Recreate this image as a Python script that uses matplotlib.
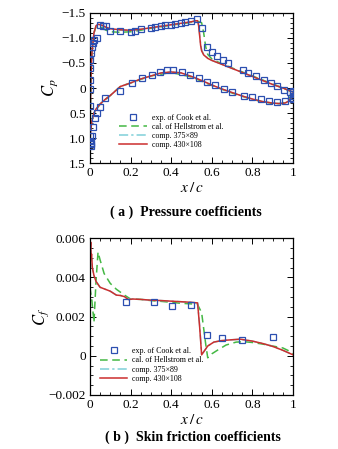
import matplotlib
matplotlib.use('Agg')
import matplotlib.pyplot as plt
from matplotlib.ticker import MultipleLocator, FuncFormatter

plt.rcParams['font.family'] = ['Liberation Serif', 'DejaVu Serif']
plt.rcParams['mathtext.fontset'] = 'stix'

# ---- pressure coefficient data ----
exp_up_x = [0.001, 0.001, 0.002, 0.004, 0.008, 0.014, 0.022, 0.033, 0.05, 0.066, 0.079, 0.1, 0.15, 0.2,
            0.22, 0.25, 0.3, 0.32, 0.35, 0.37, 0.4, 0.42, 0.45, 0.47, 0.5, 0.525, 0.55, 0.575, 0.6,
            0.625, 0.655, 0.68, 0.755, 0.78, 0.82, 0.855, 0.89, 0.92, 0.955, 0.985, 0.998]
exp_up_cp = [-0.16, -0.39, -0.55, -0.7, -0.82, -0.9, -0.95, -0.99, -1.25, -1.24, -1.23, -1.14, -1.13, -1.12,
             -1.13, -1.17, -1.2, -1.22, -1.23, -1.25, -1.26, -1.27, -1.29, -1.31, -1.33, -1.38, -1.19, -0.82, -0.71,
             -0.64, -0.56, -0.5, -0.35, -0.3, -0.23, -0.15, -0.09, -0.03, 0.03, 0.08, 0.15]
exp_lo_x = [0.001, 0.001, 0.001, 0.002, 0.003, 0.004, 0.006, 0.01, 0.016, 0.025, 0.036, 0.05, 0.074,
            0.148, 0.206, 0.255, 0.304, 0.345, 0.378, 0.411, 0.452, 0.493, 0.535, 0.576, 0.617, 0.658,
            0.7, 0.757, 0.8, 0.84, 0.88, 0.92, 0.96, 0.99, 0.998, 0.999, 1.0]
exp_lo_cp = [0.02, 0.35, 0.95, 1.05, 1.12, 1.15, 1.1, 0.95, 0.77, 0.6, 0.5, 0.38, 0.2,
             0.05, -0.1, -0.19, -0.25, -0.32, -0.35, -0.35, -0.32, -0.25, -0.19, -0.12, -0.05, 0.01,
             0.07, 0.15, 0.18, 0.22, 0.25, 0.27, 0.26, 0.2, 0.12, 0.05, 0.22]

comp430_up_x = [0, 0.002, 0.005, 0.01, 0.02, 0.03, 0.04, 0.06, 0.08, 0.1, 0.15, 0.2, 0.25, 0.3, 0.35, 0.4,
                0.45, 0.5, 0.52, 0.53, 0.535, 0.54, 0.545, 0.55, 0.56, 0.58, 0.6, 0.65, 0.7, 0.75, 0.8,
                0.85, 0.9, 0.95, 1.0]
comp430_up_cp = [1.1, 0.5, -0.2, -0.7, -1.1, -1.24, -1.27, -1.25, -1.21, -1.18, -1.16, -1.15, -1.17, -1.2,
                 -1.23, -1.26, -1.29, -1.32, -1.34, -1.34, -1.25, -1.05, -0.85, -0.74, -0.66, -0.59, -0.55,
                 -0.47, -0.39, -0.31, -0.23, -0.15, -0.07, 0.0, 0.08]
comp430_lo_x = [0, 0.002, 0.005, 0.01, 0.02, 0.03, 0.05, 0.08, 0.1, 0.15, 0.2, 0.25, 0.3, 0.35, 0.4, 0.45,
                0.5, 0.55, 0.6, 0.65, 0.7, 0.75, 0.8, 0.85, 0.9, 0.93, 0.96, 0.98, 1.0]
comp430_lo_cp = [1.1, 0.95, 0.8, 0.65, 0.5, 0.42, 0.32, 0.21, 0.15, -0.03, -0.1, -0.18, -0.24, -0.3, -0.32,
                 -0.3, -0.23, -0.15, -0.06, 0.02, 0.09, 0.16, 0.22, 0.27, 0.3, 0.31, 0.3, 0.26, 0.12]

comp375_up_x = comp430_up_x
comp375_up_cp = [1.1, 0.5, -0.2, -0.7, -1.1, -1.23, -1.26, -1.24, -1.2, -1.17, -1.15, -1.15, -1.17, -1.2,
                 -1.23, -1.26, -1.29, -1.32, -1.33, -1.33, -1.26, -1.08, -0.88, -0.76, -0.67, -0.6, -0.55,
                 -0.47, -0.39, -0.31, -0.23, -0.15, -0.07, 0.0, 0.08]
comp375_lo_x = comp430_lo_x
comp375_lo_cp = [1.1, 0.95, 0.8, 0.65, 0.5, 0.42, 0.32, 0.21, 0.15, -0.03, -0.1, -0.18, -0.24, -0.3, -0.32,
                 -0.3, -0.23, -0.15, -0.06, 0.02, 0.09, 0.16, 0.22, 0.27, 0.3, 0.31, 0.3, 0.26, 0.12]

hell_up_x = [0, 0.005, 0.01, 0.02, 0.03, 0.04, 0.06, 0.08, 0.1, 0.15, 0.2, 0.25, 0.3, 0.35, 0.4, 0.45, 0.5,
             0.53, 0.55, 0.56, 0.57, 0.58, 0.6, 0.65, 0.7, 0.75, 0.8, 0.85, 0.9, 0.95, 1.0]
hell_up_cp = [1.1, -0.2, -0.7, -1.1, -1.22, -1.24, -1.2, -1.15, -1.12, -1.11, -1.12, -1.15, -1.19, -1.22,
              -1.25, -1.28, -1.31, -1.33, -1.3, -1.1, -0.82, -0.67, -0.58, -0.48, -0.4, -0.32, -0.24, -0.16,
              -0.08, 0.0, 0.09]
hell_lo_x = [0, 0.005, 0.01, 0.02, 0.05, 0.1, 0.15, 0.2, 0.3, 0.4, 0.5, 0.6, 0.7, 0.8, 0.9, 0.95, 1.0]
hell_lo_cp = [1.1, 0.8, 0.65, 0.5, 0.32, 0.15, -0.03, -0.1, -0.24, -0.31, -0.22, -0.05, 0.1, 0.23, 0.31,
              0.31, 0.13]

# ---- skin friction data ----
exp_cf_x = [0.178, 0.316, 0.403, 0.497, 0.576, 0.65, 0.748, 0.9]
exp_cf = [0.00274, 0.00274, 0.00252, 0.00257, 0.00106, 0.00091, 0.00082, 0.00098]

comp430_cf_x = [0, 0.002, 0.004, 0.006, 0.008, 0.012, 0.02, 0.03, 0.05, 0.075, 0.1, 0.13, 0.15, 0.17, 0.19,
                0.21, 0.25, 0.3, 0.35, 0.4, 0.45, 0.5, 0.53, 0.54, 0.55, 0.56, 0.58, 0.61, 0.65, 0.7, 0.74,
                0.8, 0.85, 0.9, 0.95, 1.0]
comp430_cf = [0.006, 0.0055, 0.0058, 0.005, 0.0052, 0.0045, 0.0041, 0.0038, 0.0035, 0.0034, 0.0033, 0.0031,
              0.00308, 0.00302, 0.00287, 0.0029, 0.00288, 0.00284, 0.00282, 0.00279, 0.00276, 0.00273,
              0.0027, 0.0015, 0.00005, 0.0002, 0.0005, 0.0007, 0.00078, 0.00082, 0.00085, 0.00075, 0.00063,
              0.00048, 0.00028, 0.00005]
comp375_cf_x = comp430_cf_x
comp375_cf = [0.0059, 0.0055, 0.0057, 0.005, 0.0051, 0.0045, 0.0041, 0.0038, 0.0035, 0.0034, 0.0033, 0.0031,
              0.00308, 0.00302, 0.00288, 0.0029, 0.00288, 0.00284, 0.00282, 0.00279, 0.00276, 0.00273,
              0.0027, 0.0016, 0.0001, 0.0002, 0.0005, 0.0007, 0.00078, 0.00082, 0.00084, 0.00075, 0.00063,
              0.00048, 0.00028, 0.00005]
hell_cf_x = [0, 0.01, 0.02, 0.03, 0.04, 0.05, 0.07, 0.1, 0.13, 0.17, 0.2, 0.25, 0.3, 0.35, 0.4, 0.45, 0.5,
             0.53, 0.55, 0.57, 0.58, 0.6, 0.63, 0.67, 0.72, 0.76, 0.8, 0.85, 0.9, 0.95, 0.98, 1.0]
hell_cf = [0.0035, 0.0028, 0.0017, 0.0038, 0.0053, 0.0049, 0.0042, 0.0037, 0.0034, 0.0031, 0.0029, 0.00288,
           0.00282, 0.00278, 0.00273, 0.00268, 0.00265, 0.00262, 0.0022, 0.0006, -0.0001, 0.0001, 0.0003,
           0.00055, 0.0007, 0.00072, 0.00068, 0.0006, 0.0005, 0.0004, 0.00025, 0.0001]

blue = '#2c4fb0'
green = '#44b844'
cyan = '#7fd0d8'
red = '#cc2e2e'


def style_axes(ax):
    ax.tick_params(which='both', direction='in', top=True, right=True, labelsize=9.5, pad=3)
    ax.tick_params(which='major', length=4, width=0.7)
    ax.tick_params(which='minor', length=2, width=0.6)
    for s in ax.spines.values():
        s.set_linewidth(0.9)
    ax.set_xlim(0, 1)
    ax.xaxis.set_major_locator(MultipleLocator(0.2))
    ax.xaxis.set_minor_locator(MultipleLocator(0.05))
    ax.xaxis.set_major_formatter(FuncFormatter(lambda v, p: '0' if abs(v) < 1e-9 else ('1' if abs(v - 1) < 1e-9 else f'{v:.1f}')))
    ax.set_xlabel('$x\\,/\\,c$', fontsize=11, labelpad=1)


fig = plt.figure(figsize=(3.38, 4.49), dpi=100)

# --- (a) pressure coefficients ---
ax1 = fig.add_axes([0.266, 0.6363, 0.601, 0.3354])
ax1.plot(exp_up_x + exp_lo_x, exp_up_cp + exp_lo_cp, ls='none', marker='s', ms=4.2, mfc='none',
         mec=blue, mew=0.9, label='exp. of Cook et al.', zorder=4)
ax1.plot(hell_up_x, hell_up_cp, color=green, lw=1.1, ls=(0, (5, 3)), label='cal. of Hellstrom et al.')
ax1.plot(hell_lo_x, hell_lo_cp, color=green, lw=1.1, ls=(0, (5, 3)))
ax1.plot(comp375_up_x, comp375_up_cp, color=cyan, lw=1.1, ls=(0, (6, 2, 1.5, 2)), label='comp. 375×89')
ax1.plot(comp375_lo_x, comp375_lo_cp, color=cyan, lw=1.1, ls=(0, (6, 2, 1.5, 2)))
ax1.plot(comp430_up_x, comp430_up_cp, color=red, lw=1.1, label='comp. 430×108')
ax1.plot(comp430_lo_x, comp430_lo_cp, color=red, lw=1.1)
ax1.set_ylim(1.5, -1.5)
ax1.yaxis.set_major_locator(MultipleLocator(0.5))
ax1.yaxis.set_minor_locator(MultipleLocator(0.1))
ax1.yaxis.set_major_formatter(FuncFormatter(lambda v, p: '0' if abs(v) < 1e-9 else f'{v:.1f}'.replace('-', '\u2212')))
style_axes(ax1)
ax1.set_ylabel('$C_p$', fontsize=12, labelpad=1)
ax1.legend(loc='upper left', bbox_to_anchor=(0.145, 0.33), frameon=False, fontsize=5.8,
           handlelength=3.4, handletextpad=0.6, labelspacing=0.15, borderpad=0, borderaxespad=0)
fig.text(0.55, 0.527, '( a )  Pressure coefficients', ha='center', va='center', fontsize=10, fontweight='bold')

# --- (b) skin friction coefficients ---
ax2 = fig.add_axes([0.266, 0.1203, 0.601, 0.349])
ax2.plot(exp_cf_x, exp_cf, ls='none', marker='s', ms=4.2, mfc='none', mec=blue, mew=0.9,
         label='exp. of Cook et al.', zorder=4)
ax2.plot(hell_cf_x, hell_cf, color=green, lw=1.1, ls=(0, (5, 3)), label='cal. of Hellstrom et al.')
ax2.plot(comp375_cf_x, comp375_cf, color=cyan, lw=1.1, ls=(0, (6, 2, 1.5, 2)), label='comp. 375×89')
ax2.plot(comp430_cf_x, comp430_cf, color=red, lw=1.1, label='comp. 430×108')
ax2.set_ylim(-0.002, 0.006)
ax2.yaxis.set_major_locator(MultipleLocator(0.002))
ax2.yaxis.set_minor_locator(MultipleLocator(0.0005))
ax2.yaxis.set_major_formatter(FuncFormatter(lambda v, p: '0' if abs(v) < 1e-12 else f'{v:.3f}'.replace('-', '\u2212')))
style_axes(ax2)
ax2.set_ylabel('$C_f$', fontsize=12, labelpad=-2)
ax2.legend(loc='upper left', bbox_to_anchor=(0.05, 0.305), frameon=False, fontsize=5.8,
           handlelength=3.4, handletextpad=0.6, labelspacing=0.15, borderpad=0, borderaxespad=0)
fig.text(0.57, 0.027, '( b )  Skin friction coefficients', ha='center', va='center', fontsize=10, fontweight='bold')

fig.savefig('out.png', dpi=100)
